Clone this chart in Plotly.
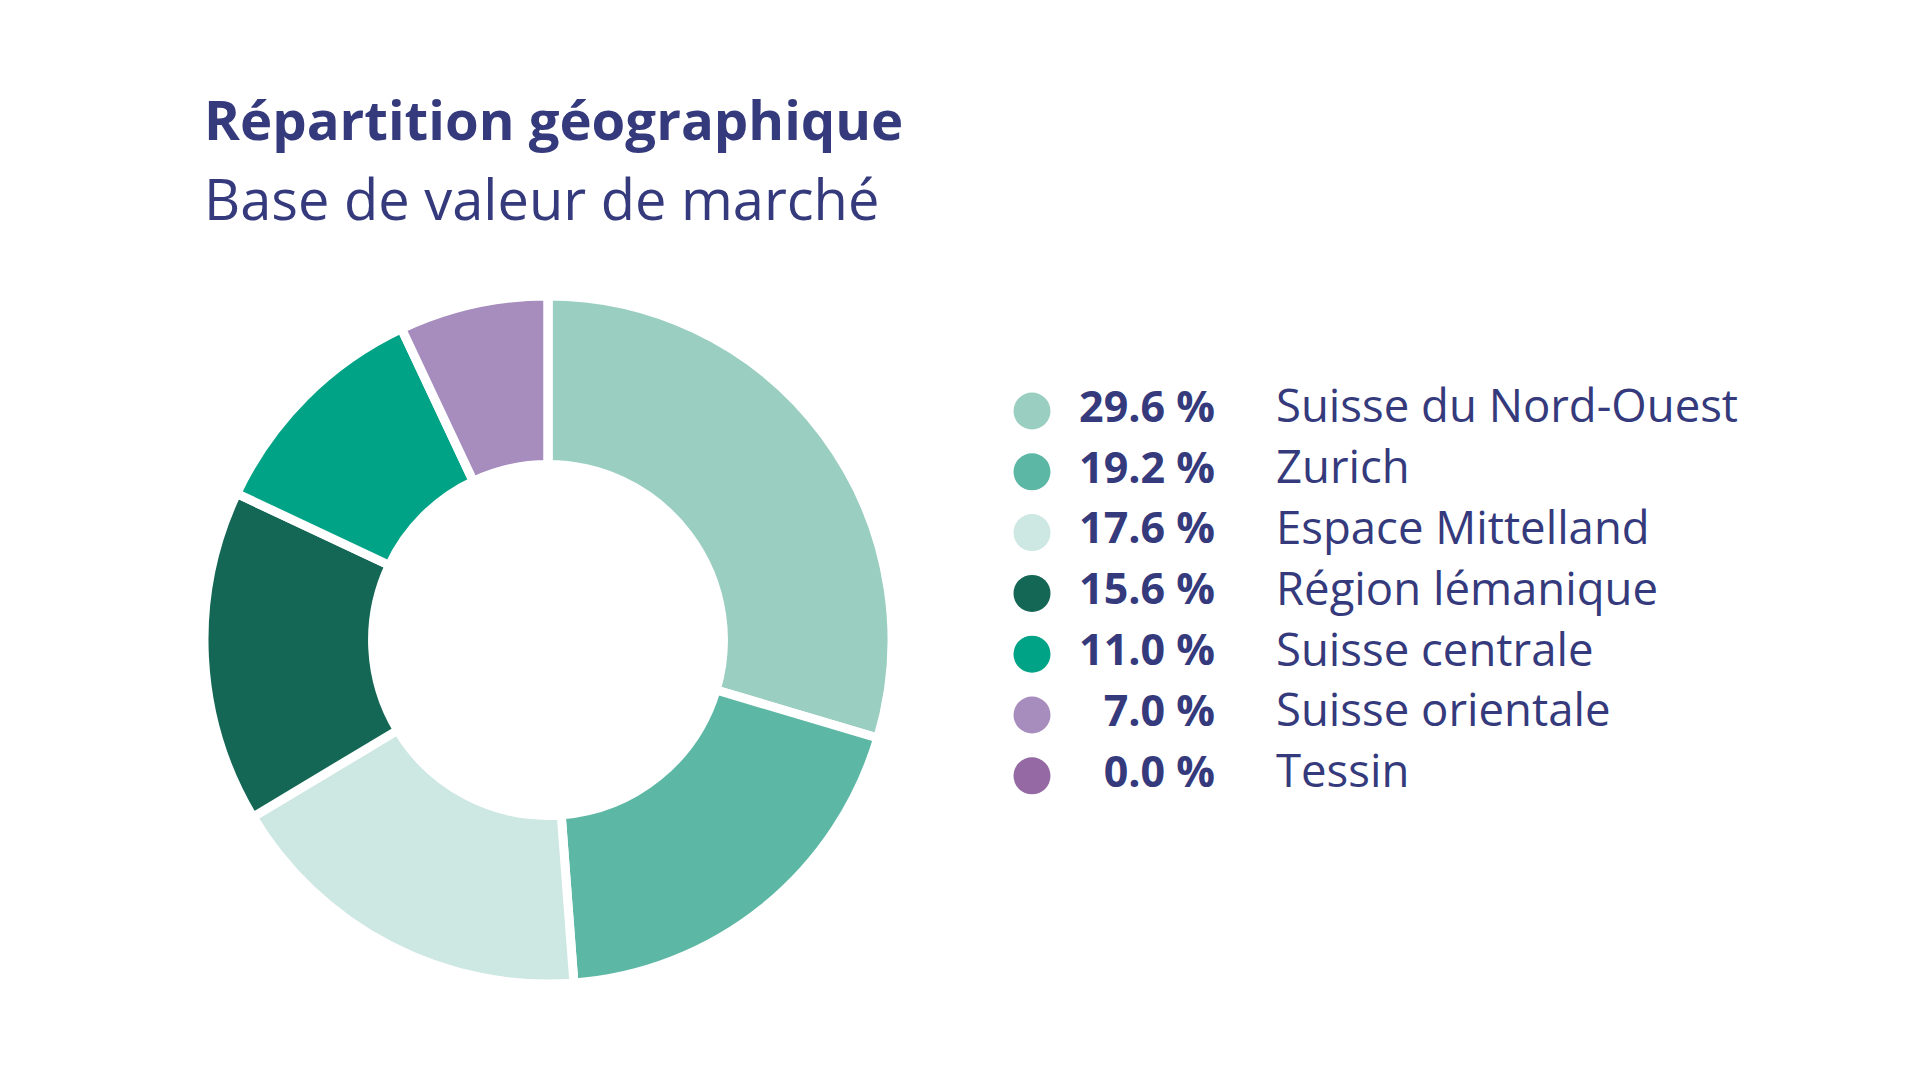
import plotly.graph_objects as go

# ---- data ----
regions = ["Suisse du Nord-Ouest", "Zurich", "Espace Mittelland", "Région lémanique",
           "Suisse centrale", "Suisse orientale", "Tessin"]
shares = [29.6, 19.2, 17.6, 15.6, 11.0, 7.0, 0.0]
colors = ["#9ACEC0", "#5CB7A5", "#CDE7E2", "#156755", "#00A385", "#A68DBE", "#9469A4"]
title_text = "Répartition géographique"
subtitle_text = "Base de valeur de marché"

W, H = 1920, 1080
TXT = "#353a7c"
FONT = "Open Sans"

def px(x):
    return x / W

def py(y):
    return 1 - y / H

fig = go.Figure()

# donut
cx, cy, r = 548, 640, 344
fig.add_trace(go.Pie(
    labels=regions, values=shares, sort=False, direction="clockwise", rotation=0,
    hole=0.51, marker=dict(colors=colors, line=dict(color="white", width=9)),
    textinfo="none", hoverinfo="label+percent", showlegend=False,
    domain=dict(x=[px(cx - r), px(cx + r)], y=[py(cy + r), py(cy - r)]),
))

# legend built as scatter traces on an overlay axis (x in pixel units, y categorical)
pct_text = [f"{v:.1f} %" for v in shares]
fig.add_trace(go.Scatter(
    x=[1032] * len(regions), y=regions, mode="markers",
    marker=dict(size=37, color=colors, line=dict(width=0)),
    xaxis="x2", yaxis="y2", hoverinfo="skip", showlegend=False,
))
fig.add_trace(go.Scatter(
    x=[1215] * len(regions), y=regions, mode="text", text=pct_text,
    textposition="middle left",
    textfont=dict(family=FONT, size=43, color=TXT, weight=700),
    xaxis="x2", yaxis="y2", hoverinfo="skip", showlegend=False,
))
fig.add_trace(go.Scatter(
    x=[1276] * len(regions), y=regions, mode="text", text=regions,
    textposition="middle right",
    textfont=dict(family=FONT, size=45.5, color=TXT),
    xaxis="x2", yaxis="y2", hoverinfo="skip", showlegend=False,
))

row0, row_step = 411, 60.8
top = row0 - row_step / 2
bot = row0 + row_step * (len(regions) - 0.5)

fig.update_layout(
    width=W, height=H, margin=dict(l=0, r=0, t=0, b=0),
    paper_bgcolor="white", plot_bgcolor="rgba(0,0,0,0)",
    xaxis2=dict(domain=[0, 1], range=[0, W], visible=False, fixedrange=True),
    yaxis2=dict(domain=[py(bot), py(top)], type="category",
                categoryorder="array", categoryarray=regions,
                range=[len(regions) - 0.5, -0.5], visible=False, fixedrange=True),
    annotations=[
        dict(text=f"<b>{title_text}</b>", x=px(202), y=py(119), xref="paper", yref="paper",
             xanchor="left", yanchor="middle", showarrow=False,
             font=dict(family=FONT, size=54.5, color=TXT, weight=800)),
        dict(text=subtitle_text, x=px(202), y=py(198), xref="paper", yref="paper",
             xanchor="left", yanchor="middle", showarrow=False,
             font=dict(family=FONT, size=56, color=TXT)),
    ],
)

fig.write_html("out.html")
